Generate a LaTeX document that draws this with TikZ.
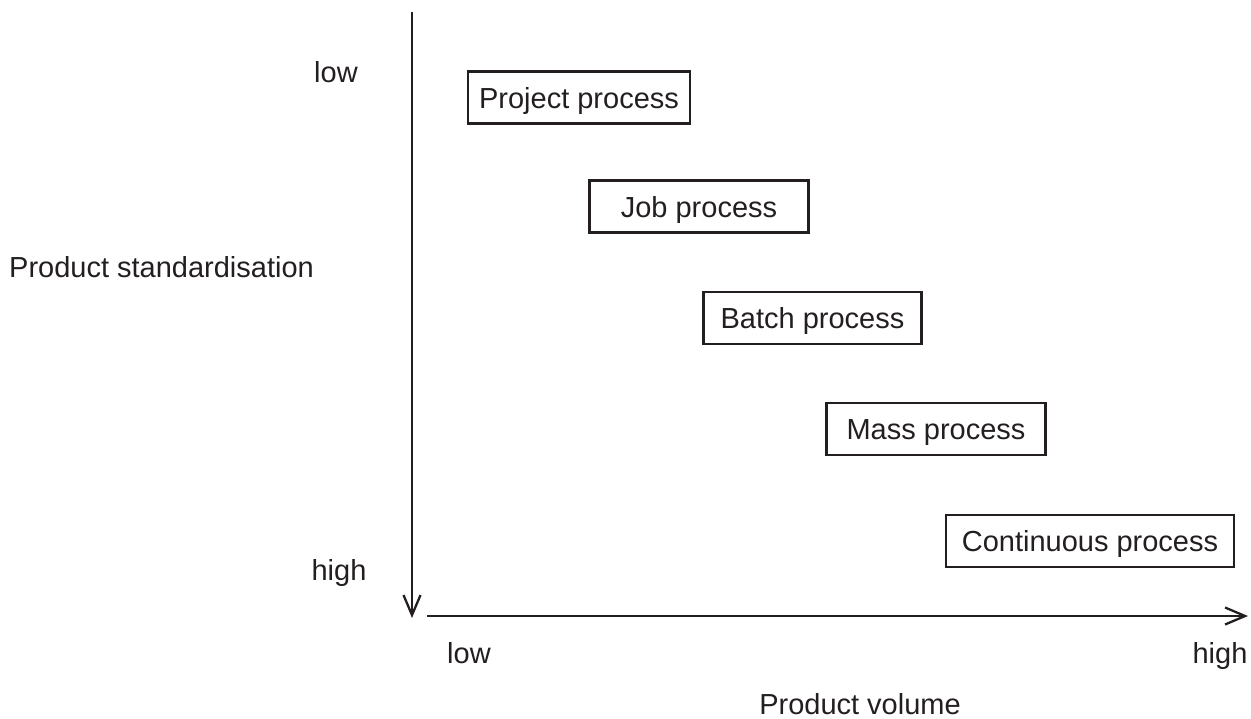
\documentclass[tikz,border=0pt]{standalone}
\usepackage{fontspec}
\setmainfont{Liberation Sans}
\usetikzlibrary{arrows.meta}
\definecolor{ink}{RGB}{35,31,32}
\begin{document}
\begin{tikzpicture}[x=1pt,y=1pt,
  every node/.style={font=\fontsize{29}{34}\selectfont, text=ink, inner sep=0pt},
  procbox/.style={draw=ink, line width=2.4pt, minimum height=52pt, text height=21pt, text depth=0pt},
  lbl/.style={anchor=base},
  axis/.style={draw=ink, line width=2.3pt, -{Straight Barb[length=20pt,width=17pt,line width=2.3pt]}}
]
\useasboundingbox (0,0) rectangle (1251,-718);
% axes
\coordinate (vtop) at (412,-12);
\coordinate (vbot) at (412,-618);
\coordinate (hleft) at (427,-616);
\coordinate (hright) at (1248,-616);
\draw[axis] (vtop) -- (vbot);
\draw[axis] (hleft) -- (hright);
% axis labels
\node[lbl] (ylow) at (336,-82) {low};
\node[lbl] (yhigh) at (339,-580) {high};
\node[lbl] (ytitle) at (161.5,-277) {Product standardisation};
\node[lbl] (xlow) at (469,-663) {low};
\node[lbl] (xhigh) at (1220,-663) {high};
\node[lbl] (xtitle) at (860,-714) {Product volume};
% process boxes
\node[procbox, minimum width=222pt] (project) at (579,-97.5) {Project process};
\node[procbox, minimum width=219pt] (job) at (699,-206.5) {Job process};
\node[procbox, minimum width=218pt] (batch) at (812.5,-318) {Batch process};
\node[procbox, minimum width=219pt] (mass) at (936,-429) {Mass process};
\node[procbox, minimum width=288pt] (continuous) at (1090,-541) {Continuous process};
\end{tikzpicture}
\end{document}
